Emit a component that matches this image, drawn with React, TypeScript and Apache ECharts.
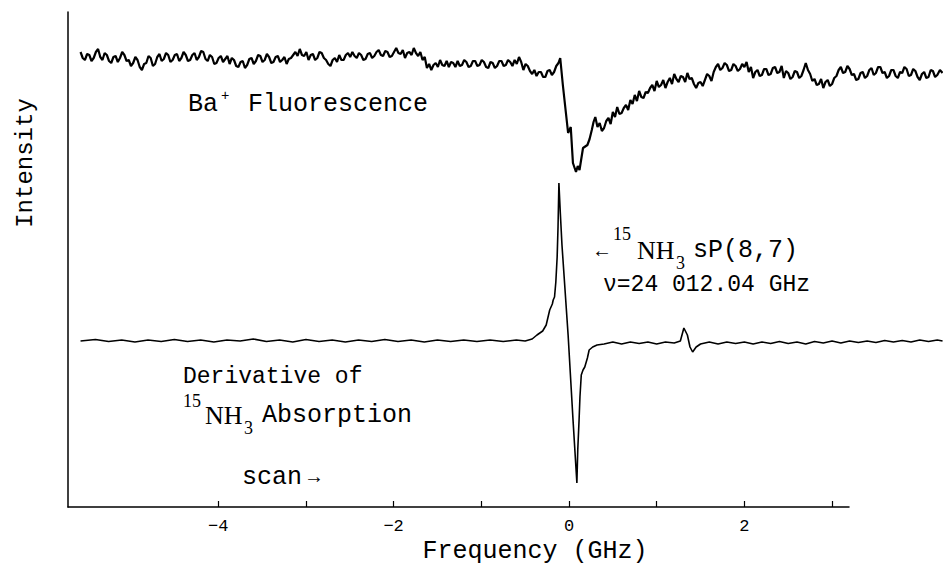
import React, { useEffect, useRef } from "react";
import * as echarts from "echarts";

// Frequency (GHz) vs intensity (arbitrary units) — Ba+ fluorescence trace
const fluorescence: [number, number][] = [
  [-5.57, 455], [-5.545, 449], [-5.52, 447], [-5.495, 453], [-5.47, 452], [-5.445, 446],
  [-5.42, 449], [-5.395, 455], [-5.37, 458], [-5.345, 450], [-5.32, 447], [-5.295, 454],
  [-5.27, 452], [-5.245, 446], [-5.22, 444], [-5.195, 450], [-5.17, 451], [-5.145, 445],
  [-5.12, 449], [-5.095, 455], [-5.07, 452], [-5.045, 446], [-5.02, 447], [-4.995, 441],
  [-4.97, 444], [-4.945, 450], [-4.92, 447], [-4.895, 440], [-4.87, 437], [-4.845, 443],
  [-4.82, 444], [-4.795, 451], [-4.77, 449], [-4.745, 441], [-4.72, 443], [-4.695, 450],
  [-4.67, 453], [-4.645, 446], [-4.62, 448], [-4.595, 454], [-4.57, 452], [-4.545, 445],
  [-4.52, 447], [-4.495, 452], [-4.47, 453], [-4.445, 446], [-4.42, 449], [-4.395, 455],
  [-4.37, 452], [-4.345, 446], [-4.32, 447], [-4.295, 452], [-4.27, 454], [-4.245, 447],
  [-4.22, 450], [-4.195, 456], [-4.17, 455], [-4.145, 448], [-4.12, 446], [-4.095, 452],
  [-4.07, 450], [-4.045, 443], [-4.02, 444], [-3.995, 449], [-3.97, 451], [-3.945, 445],
  [-3.92, 448], [-3.895, 451], [-3.87, 443], [-3.845, 449], [-3.82, 447], [-3.795, 441],
  [-3.77, 440], [-3.745, 445], [-3.72, 446], [-3.695, 439], [-3.67, 442], [-3.645, 448],
  [-3.62, 449], [-3.595, 443], [-3.57, 446], [-3.545, 452], [-3.52, 451], [-3.495, 445],
  [-3.47, 447], [-3.445, 453], [-3.42, 450], [-3.395, 444], [-3.37, 445], [-3.345, 450],
  [-3.32, 451], [-3.295, 445], [-3.27, 447], [-3.245, 450], [-3.22, 443], [-3.195, 448],
  [-3.17, 449], [-3.145, 452], [-3.12, 455], [-3.095, 451], [-3.07, 458], [-3.045, 452],
  [-3.02, 451], [-2.995, 455], [-2.97, 447], [-2.945, 452], [-2.92, 453], [-2.895, 447],
  [-2.87, 449], [-2.845, 455], [-2.82, 454], [-2.795, 449], [-2.77, 447], [-2.745, 443],
  [-2.72, 441], [-2.695, 447], [-2.67, 449], [-2.645, 445], [-2.62, 452], [-2.595, 447],
  [-2.57, 447], [-2.545, 452], [-2.52, 454], [-2.495, 450], [-2.47, 455], [-2.445, 451],
  [-2.42, 449], [-2.395, 454], [-2.37, 452], [-2.345, 447], [-2.32, 448], [-2.295, 453],
  [-2.27, 454], [-2.245, 449], [-2.22, 451], [-2.195, 455], [-2.17, 457], [-2.145, 452],
  [-2.12, 451], [-2.095, 456], [-2.07, 455], [-2.045, 450], [-2.02, 451], [-1.995, 455],
  [-1.97, 459], [-1.945, 454], [-1.92, 453], [-1.895, 457], [-1.87, 449], [-1.845, 454],
  [-1.82, 455], [-1.795, 452], [-1.77, 459], [-1.745, 454], [-1.72, 451], [-1.695, 455],
  [-1.67, 447], [-1.645, 450], [-1.62, 439], [-1.595, 443], [-1.57, 437], [-1.545, 442],
  [-1.52, 444], [-1.495, 440], [-1.47, 447], [-1.445, 442], [-1.42, 441], [-1.395, 446],
  [-1.37, 440], [-1.345, 445], [-1.32, 444], [-1.295, 440], [-1.27, 446], [-1.245, 441],
  [-1.22, 442], [-1.195, 447], [-1.17, 445], [-1.145, 440], [-1.12, 441], [-1.095, 446],
  [-1.07, 446], [-1.045, 441], [-1.02, 442], [-0.995, 447], [-0.97, 445], [-0.945, 440],
  [-0.92, 439], [-0.895, 445], [-0.87, 444], [-0.845, 439], [-0.82, 441], [-0.795, 446],
  [-0.77, 446], [-0.745, 441], [-0.72, 442], [-0.695, 447], [-0.67, 445], [-0.645, 441],
  [-0.62, 447], [-0.595, 443], [-0.57, 450], [-0.545, 445], [-0.52, 437], [-0.495, 443],
  [-0.47, 441], [-0.445, 436], [-0.42, 433], [-0.395, 437], [-0.37, 431], [-0.345, 435],
  [-0.32, 435], [-0.295, 430], [-0.27, 430], [-0.245, 436], [-0.22, 437], [-0.195, 432],
  [-0.17, 435], [-0.145, 441], [-0.12, 444], [-0.10, 449], [-0.07, 422], [-0.035, 394],
  [-0.01, 374], [0.02, 380], [0.045, 344], [0.08, 335], [0.10, 341], [0.12, 337],
  [0.16, 359], [0.21, 362], [0.235, 368], [0.26, 377], [0.28, 385], [0.30, 390],
  [0.325, 380], [0.35, 384], [0.375, 376], [0.40, 379], [0.425, 386], [0.45, 389],
  [0.475, 383], [0.50, 395], [0.525, 390], [0.55, 400], [0.575, 393], [0.60, 394],
  [0.625, 399], [0.65, 402], [0.675, 397], [0.70, 407], [0.725, 403], [0.75, 412],
  [0.775, 406], [0.80, 416], [0.825, 410], [0.85, 409], [0.875, 415], [0.90, 414],
  [0.925, 419], [0.95, 422], [0.975, 416], [1.00, 426], [1.025, 420], [1.05, 422],
  [1.075, 427], [1.10, 419], [1.125, 425], [1.15, 429], [1.175, 423], [1.20, 433],
  [1.225, 428], [1.25, 425], [1.275, 431], [1.30, 430], [1.325, 425], [1.35, 434],
  [1.375, 428], [1.40, 429], [1.425, 423], [1.45, 419], [1.475, 424], [1.50, 425],
  [1.525, 421], [1.55, 427], [1.575, 433], [1.60, 431], [1.625, 426], [1.65, 435],
  [1.675, 440], [1.70, 443], [1.725, 437], [1.75, 439], [1.775, 444], [1.80, 442],
  [1.825, 436], [1.85, 437], [1.875, 443], [1.90, 441], [1.925, 436], [1.95, 438],
  [1.975, 443], [2.00, 440], [2.025, 445], [2.05, 435], [2.075, 440], [2.10, 429],
  [2.125, 435], [2.15, 437], [2.175, 431], [2.20, 432], [2.225, 438], [2.25, 438],
  [2.275, 432], [2.30, 433], [2.325, 439], [2.35, 440], [2.375, 434], [2.40, 435],
  [2.425, 441], [2.45, 429], [2.475, 436], [2.50, 434], [2.525, 428], [2.55, 430],
  [2.575, 436], [2.60, 435], [2.625, 429], [2.65, 431], [2.675, 437], [2.70, 444],
  [2.725, 437], [2.75, 433], [2.775, 426], [2.80, 428], [2.825, 422], [2.85, 423],
  [2.875, 428], [2.90, 419], [2.925, 425], [2.95, 427], [2.975, 421], [3.00, 423],
  [3.025, 429], [3.05, 431], [3.075, 437], [3.10, 440], [3.125, 434], [3.15, 435],
  [3.175, 441], [3.20, 438], [3.225, 432], [3.25, 433], [3.275, 427], [3.30, 428],
  [3.325, 434], [3.35, 435], [3.375, 429], [3.40, 431], [3.425, 437], [3.45, 439],
  [3.475, 432], [3.50, 434], [3.525, 440], [3.55, 440], [3.575, 434], [3.60, 435],
  [3.625, 429], [3.65, 431], [3.675, 437], [3.70, 437], [3.725, 431], [3.75, 429],
  [3.775, 435], [3.80, 434], [3.825, 440], [3.85, 438], [3.875, 431], [3.90, 432],
  [3.925, 438], [3.95, 436], [3.975, 430], [4.00, 427], [4.025, 433], [4.05, 435],
  [4.075, 429], [4.10, 430], [4.125, 437], [4.15, 436], [4.175, 430], [4.20, 432],
  [4.23, 437], [4.26, 434],
];

// Derivative of 15NH3 absorption trace
const derivative: [number, number][] = [
  [-5.57, 166], [-5.4, 167.5], [-5.25, 165.5], [-5.1, 167], [-4.95, 165], [-4.8, 167],
  [-4.65, 165.5], [-4.5, 167.5], [-4.35, 165.5], [-4.2, 167], [-4.05, 165], [-3.9, 167],
  [-3.75, 166], [-3.6, 168], [-3.45, 165.5], [-3.3, 167], [-3.15, 165], [-3.0, 167.5],
  [-2.85, 165.5], [-2.7, 167], [-2.55, 165], [-2.4, 167], [-2.25, 165.5], [-2.1, 167.5],
  [-1.95, 165.5], [-1.8, 167], [-1.65, 165], [-1.5, 167], [-1.35, 165.5], [-1.2, 167],
  [-1.05, 165.5], [-0.9, 167], [-0.75, 165.5], [-0.6, 167], [-0.5, 166], [-0.42, 168],
  [-0.365, 172], [-0.3, 176], [-0.26, 182], [-0.22, 197], [-0.19, 203], [-0.18, 207],
  [-0.165, 210], [-0.15, 225], [-0.135, 250], [-0.125, 280], [-0.115, 324], [-0.1, 296],
  [-0.08, 262], [-0.01, 172], [0.046, 87], [0.09, 24], [0.1, 57], [0.115, 87],
  [0.125, 110], [0.14, 132], [0.16, 137], [0.18, 140], [0.21, 149], [0.23, 157],
  [0.27, 160], [0.32, 162], [0.4, 163], [0.5, 165], [0.6, 163], [0.7, 165],
  [0.8, 163.5], [0.9, 165], [1.0, 163], [1.1, 165], [1.2, 164], [1.27, 166],
  [1.31, 179], [1.35, 172], [1.38, 160], [1.41, 155], [1.45, 160], [1.5, 163],
  [1.6, 165], [1.7, 163], [1.8, 165], [1.9, 163.5], [2.0, 165], [2.1, 163],
  [2.2, 165], [2.3, 163.5], [2.4, 165.5], [2.5, 163.5], [2.6, 165], [2.7, 163],
  [2.8, 165.5], [2.9, 164], [3.0, 166], [3.1, 164], [3.2, 166], [3.3, 164.5],
  [3.4, 166], [3.5, 164.5], [3.6, 166.5], [3.7, 165], [3.8, 166.5], [3.9, 165],
  [4.0, 167], [4.1, 165.5], [4.2, 167], [4.26, 166],
];

const tickValues = [-4, -3, -2, -1, 0, 1, 2, 3];
const labelValues = [-4, -2, 0, 2];

const X_MIN = -5.713;
const X_DATA_MAX = 4.265;
const X_AXIS_MAX = 3.193;
const Y_MAX = 495;

const MONO = "'Liberation Mono', 'DejaVu Sans Mono', monospace";
const SERIF = "'Liberation Serif', 'DejaVu Serif', serif";

export default function App() {
  const ref = useRef<HTMLDivElement>(null);

  useEffect(() => {
    if (!ref.current) return;
    const chart = echarts.init(ref.current, undefined, { renderer: "svg" });

    const txt = (
      text: string,
      x: number,
      y: number,
      size: number,
      family: string = MONO,
      extra: any = {}
    ) => ({
      type: "text",
      x,
      y,
      style: {
        text,
        fill: "#000",
        font: `${size}px ${family}`,
        textVerticalAlign: "middle",
        ...extra,
      },
    });

    chart.setOption({
      animation: false,
      backgroundColor: "#fff",
      textStyle: { fontFamily: MONO },
      grid: [
        { left: 68, right: 0, top: 12, bottom: 58 },
        { left: 68, right: 94, top: 12, bottom: 58 },
      ],
      xAxis: [
        {
          gridIndex: 0,
          type: "value",
          min: X_MIN,
          max: X_DATA_MAX,
          show: false,
        },
        {
          gridIndex: 1,
          type: "value",
          min: X_MIN,
          max: X_AXIS_MAX,
          axisLine: { show: true, onZero: false, lineStyle: { color: "#000", width: 1.5 } },
          axisTick: {
            show: true,
            inside: true,
            length: 6,
            customValues: tickValues,
            lineStyle: { color: "#000", width: 1.2 },
          },
          axisLabel: {
            show: true,
            customValues: labelValues,
            formatter: (v: number) => String(v).replace("-", "\u2212"),
            fontFamily: MONO,
            fontSize: 17,
            color: "#000",
            margin: 11,
          },
          splitLine: { show: false },
        },
      ],
      yAxis: [
        { gridIndex: 0, type: "value", min: 0, max: Y_MAX, show: false },
        {
          gridIndex: 1,
          type: "value",
          min: 0,
          max: Y_MAX,
          axisLine: { show: true, onZero: false, lineStyle: { color: "#000", width: 1.5 } },
          axisTick: { show: false },
          axisLabel: { show: false },
          splitLine: { show: false },
        },
      ],
      series: [
        {
          type: "line",
          xAxisIndex: 0,
          yAxisIndex: 0,
          data: fluorescence,
          showSymbol: false,
          symbol: "none",
          lineStyle: { color: "#000", width: 2.2 },
        },
        {
          type: "line",
          xAxisIndex: 0,
          yAxisIndex: 0,
          data: derivative,
          showSymbol: false,
          symbol: "none",
          lineStyle: { color: "#000", width: 1.6 },
        },
      ],
      graphic: [
        txt("Ba", 188, 104, 25),
        txt("+", 221, 96, 14),
        txt("Fluorescence", 248, 104, 25),
        txt("\u2190", 592, 250, 20, SERIF),
        txt("15", 613, 234, 18, SERIF),
        txt("NH", 637, 250, 26, SERIF),
        txt("3", 676, 263, 18, SERIF),
        txt("sP(8,7)", 693, 250, 25),
        txt("\u03bd=24 012.04 GHz", 603, 285, 23),
        txt("Derivative of", 183, 377, 23),
        txt("15", 183, 401, 18, SERIF),
        txt("NH", 205, 415, 26, SERIF),
        txt("3", 244, 428, 18, SERIF),
        txt("Absorption", 262, 415, 25),
        txt("scan", 242, 477, 25),
        txt("\u2192", 304, 476, 20, SERIF),
        txt("Frequency (GHz)", 535, 551, 25, MONO, { textAlign: "center" }),
        {
          type: "text",
          x: 25,
          y: 163,
          rotation: Math.PI / 2,
          style: {
            text: "Intensity",
            fill: "#000",
            font: `24px ${MONO}`,
            textAlign: "center",
            textVerticalAlign: "middle",
          },
        },
      ],
    });

    return () => chart.dispose();
  }, []);

  return (
    <div
      ref={ref}
      style={{ position: "fixed", left: 0, top: 0, width: 943, height: 565 }}
    />
  );
}
